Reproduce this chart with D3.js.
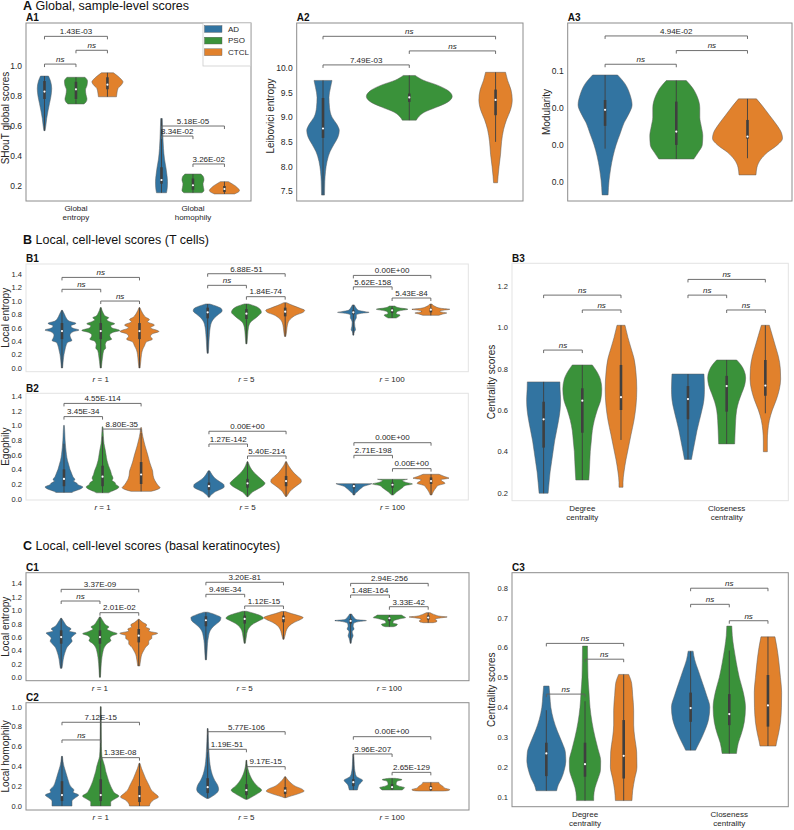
<!DOCTYPE html>
<html lang="en">
<head>
  <meta charset="UTF-8" />
  <title>SHouT scores</title>
  <script src="https://d3js.org/d3.v7.min.js"></script>
  <style>
    body { margin: 0; background: #fff; }
    svg { font-family: "Liberation Sans", Arial, sans-serif; }
  </style>
</head>
<body>
  <svg id="chart" width="794" height="830"></svg>

  <script>
    const hues = ["AD", "PSO", "CTCL"];
    const hueColors = ["#3274a1", "#3a923a", "#e1812c"];

    // violin profiles: [value, density], boxes: [q1, median, q3, whiskerLo?, whiskerHi?]
    // brackets: [category, hueFrom, hueTo, value, label]

    // ---- A1 ----
    const a1Cats = [["Global", "entropy"], ["Global", "homophily"]];
    const a1Ticks = [0.2, 0.4, 0.6, 0.8, 1.0];
    const a1Shapes = [
      [[0.933, 4], [0.9, 6], [0.85, 7.2], [0.8, 6.5], [0.75, 5], [0.7, 3.5], [0.65, 2.2], [0.6, 1.3], [0.569, 0.6]],
      [[0.925, 9], [0.9, 11.5], [0.87, 11], [0.84, 9.5], [0.81, 10], [0.78, 11], [0.76, 10], [0.747, 8]],
      [[0.955, 6], [0.935, 10], [0.91, 14], [0.895, 15.5], [0.875, 14], [0.85, 10.5], [0.82, 9.5], [0.795, 9]],
      [[0.65, 0.8], [0.55, 1.3], [0.45, 2], [0.38, 3], [0.32, 4.5], [0.27, 5.5], [0.23, 6], [0.19, 5.8], [0.155, 5]],
      [[0.28, 8], [0.26, 10.5], [0.24, 11], [0.215, 10], [0.19, 10.5], [0.17, 11], [0.155, 9]],
      [[0.229, 4], [0.215, 7.5], [0.2, 11], [0.185, 13.5], [0.17, 15], [0.158, 13.5], [0.147, 10]]
    ];
    const a1Boxes = [
      [0.78, 0.83, 0.9], [0.78, 0.845, 0.895], [0.845, 0.876, 0.925],
      [0.215, 0.24, 0.325], [0.175, 0.205, 0.25], [0.16, 0.18, 0.2]
    ];
    const a1Brackets = [
      [0, 0, 2, 1.198, "1.43E-03"], [0, 1, 2, 1.105, "ns"], [0, 0, 1, 1.013, "ns"],
      [1, 0, 2, 0.6, "5.18E-05"], [1, 0, 1, 0.533, "8.34E-02"], [1, 1, 2, 0.347, "3.26E-02"]
    ];

    // ---- A2 ----
    const a2Ticks = [7.5, 8.0, 8.5, 9.0, 9.5, 10.0];
    const a2Shapes = [
      [[9.745, 9], [9.6, 7.5], [9.4, 6], [9.2, 6.5], [9.0, 9], [8.85, 14], [8.73, 16.3], [8.6, 15], [8.45, 11], [8.3, 7], [8.1, 4], [7.9, 2.5], [7.7, 1.8], [7.42, 1.5]],
      [[9.846, 6], [9.75, 14], [9.65, 28], [9.55, 38], [9.42, 43], [9.3, 38], [9.2, 27], [9.1, 15], [9.0, 9], [8.94, 7]],
      [[9.91, 10], [9.75, 12], [9.55, 15.5], [9.35, 16.7], [9.15, 15], [8.95, 11], [8.75, 8], [8.5, 6], [8.25, 5], [8.0, 3.5], [7.8, 2.5], [7.67, 2]]
    ];
    const a2Boxes = [[8.58, 8.77, 9.39], [9.31, 9.4, 9.48], [9.04, 9.35, 9.56, 8.5, 9.91]];
    const a2Brackets = [[0, 0, 2, 10.64, "ns"], [0, 1, 2, 10.344, "ns"], [0, 0, 1, 10.06, "7.49E-03"]];

    // ---- A3 ----
    const a3Ticks = [0.0, 0.02, 0.04, 0.06];
    const a3Shapes = [
      [[0.0578, 12.5], [0.053, 20], [0.047, 25], [0.0416, 27], [0.037, 24], [0.032, 19], [0.026, 15], [0.02, 11], [0.014, 8], [0.007, 5.5], [0.001, 4], [-0.007, 3]],
      [[0.0548, 10], [0.051, 16], [0.046, 21], [0.04, 23.5], [0.035, 23.5], [0.03, 25], [0.025, 26.5], [0.02, 26], [0.016, 22], [0.0124, 17.5]],
      [[0.0449, 9], [0.041, 15], [0.036, 22], [0.031, 29], [0.0265, 34], [0.0235, 35], [0.02, 30], [0.016, 20], [0.012, 13], [0.008, 9.5], [0.0038, 8.5]]
    ];
    const a3Boxes = [[0.0303, 0.039, 0.0443, 0.018, 0.0578], [0.02, 0.0272, 0.0434], [0.0234, 0.0245, 0.0335, 0.0128, 0.0449]];
    const a3Brackets = [[0, 0, 2, 0.0789, "4.94E-02"], [0, 1, 2, 0.071, "ns"], [0, 0, 1, 0.0636, "ns"]];

    // ---- B1 ----
    const rValues = [1, 5, 100];
    const entropyTicks = [0.0, 0.2, 0.4, 0.6, 0.8, 1.0, 1.2, 1.4];
    const b1Shapes = [
      [[0.86, 0.5], [0.8, 2.5], [0.74, 4.5], [0.7, 7], [0.665, 14], [0.63, 9], [0.6, 10], [0.565, 17], [0.54, 11], [0.49, 8], [0.44, 9], [0.41, 10], [0.38, 5.5], [0.33, 4], [0.27, 3], [0.2, 2], [0.12, 1.3], [0, 0.6]],
      [[0.9, 0.5], [0.82, 2.5], [0.77, 5], [0.75, 8], [0.72, 6], [0.69, 9], [0.66, 14], [0.63, 10], [0.6, 11], [0.56, 19], [0.53, 12], [0.49, 9], [0.45, 10], [0.43, 11], [0.4, 6], [0.35, 4.5], [0.3, 5], [0.26, 3], [0.18, 2], [0.1, 1.3], [0, 0.6]],
      [[0.9, 0.5], [0.82, 3], [0.76, 6], [0.72, 10], [0.69, 8], [0.64, 15], [0.6, 11], [0.545, 19.5], [0.51, 13], [0.47, 11], [0.43, 13], [0.39, 7], [0.33, 5], [0.27, 3], [0.2, 2], [0.1, 1.3], [0, 0.6]],
      [[0.954, 2], [0.92, 9], [0.88, 14], [0.85, 14.5], [0.8, 11], [0.75, 7], [0.7, 4.5], [0.6, 2.5], [0.5, 1.8], [0.4, 1.3], [0.3, 1], [0.22, 0.6]],
      [[0.955, 2], [0.92, 9], [0.87, 14], [0.83, 15], [0.78, 12], [0.73, 8], [0.68, 4], [0.6, 2], [0.5, 1.3], [0.36, 0.6]],
      [[0.973, 1.5], [0.93, 8], [0.89, 15], [0.86, 19.5], [0.83, 18], [0.79, 11], [0.74, 6], [0.68, 3], [0.6, 1.8], [0.52, 1.2], [0.47, 0.6]],
      [[0.94, 1], [0.9, 2.5], [0.86, 5], [0.84, 12], [0.83, 15.8], [0.815, 8], [0.79, 3], [0.75, 3], [0.72, 2], [0.68, 1.2], [0.62, 1.5], [0.57, 2.2], [0.54, 1], [0.49, 0.5]],
      [[0.924, 3], [0.9, 6], [0.875, 15.8], [0.86, 10], [0.84, 5], [0.81, 4], [0.79, 8], [0.77, 7], [0.745, 4]],
      [[0.954, 1], [0.92, 4], [0.89, 10], [0.875, 19], [0.86, 12], [0.84, 9], [0.82, 16], [0.805, 12], [0.785, 8]]
    ];
    const b1Boxes = [
      [0.43, 0.55, 0.67], [0.43, 0.55, 0.67], [0.43, 0.55, 0.67],
      [0.74, 0.83, 0.9], [0.73, 0.81, 0.88], [0.77, 0.84, 0.9],
      [0.8, 0.83, 0.86], [0.82, 0.86, 0.89], [0.83, 0.87, 0.89]
    ];
    const b1Brackets = [
      [0, 0, 2, 1.35, "ns"], [0, 0, 1, 1.173, "ns"], [0, 1, 2, 0.998, "ns"],
      [1, 0, 2, 1.405, "6.88E-51"], [1, 0, 1, 1.232, "ns"], [1, 1, 2, 1.063, "1.84E-74"],
      [2, 0, 2, 1.38, "0.00E+00"], [2, 0, 1, 1.21, "5.62E-158"], [2, 1, 2, 1.043, "5.43E-84"]
    ];

    // ---- B2 ----
    const b2Shapes = [
      [[1.0, 0.4], [0.9, 0.8], [0.8, 1.1], [0.7, 1.7], [0.6, 2.5], [0.52, 3.5], [0.45, 5], [0.4, 6], [0.35, 7.5], [0.3, 9], [0.26, 11], [0.24, 9.5], [0.21, 13], [0.19, 14], [0.16, 19], [0.13, 16], [0.1, 10], [0.085, 8]],
      [[0.98, 0.4], [0.85, 0.9], [0.75, 1.5], [0.68, 2.5], [0.6, 3.5], [0.52, 4.5], [0.45, 6], [0.38, 8], [0.33, 9], [0.28, 10.5], [0.25, 9.5], [0.22, 12.5], [0.19, 13.5], [0.16, 16.5], [0.13, 14], [0.1, 9], [0.08, 6]],
      [[0.97, 0.4], [0.9, 1], [0.8, 2.5], [0.72, 4], [0.65, 5.5], [0.58, 7], [0.5, 8.5], [0.44, 10], [0.38, 11.5], [0.32, 12], [0.27, 13], [0.22, 15], [0.18, 17], [0.15, 19], [0.12, 15], [0.1, 10]],
      [[0.38, 0.8], [0.33, 3], [0.28, 6], [0.23, 11], [0.19, 15], [0.16, 15.3], [0.13, 12], [0.1, 7], [0.07, 4], [0.04, 1.5], [0.02, 0.5]],
      [[0.505, 0.5], [0.45, 2], [0.4, 4], [0.35, 7], [0.3, 11], [0.25, 15], [0.21, 17.5], [0.17, 15], [0.13, 10], [0.09, 5], [0.05, 2], [0.027, 0.6]],
      [[0.505, 0.5], [0.45, 2.5], [0.4, 5], [0.35, 8], [0.3, 12], [0.26, 15], [0.23, 15.3], [0.19, 12], [0.15, 8], [0.1, 4], [0.06, 2], [0.03, 0.6]],
      [[0.205, 18], [0.19, 15], [0.17, 10], [0.15, 8], [0.13, 6], [0.1, 4], [0.08, 2], [0.05, 0.8]],
      [[0.265, 15], [0.245, 10], [0.225, 13], [0.2, 20], [0.18, 13], [0.15, 10], [0.12, 7], [0.09, 4], [0.065, 2], [0.05, 0.8]],
      [[0.333, 8], [0.3, 14], [0.28, 18], [0.26, 10], [0.24, 11], [0.21, 14], [0.18, 7], [0.15, 5], [0.1, 2.5], [0.05, 0.8]]
    ];
    const b2Boxes = [
      [0.17, 0.27, 0.4, 0.085, 0.75], [0.17, 0.3, 0.45, 0.08, 0.85], [0.2, 0.33, 0.5, 0.1, 0.9],
      [0.12, 0.17, 0.22], [0.15, 0.21, 0.27], [0.17, 0.24, 0.31],
      [0.14, 0.17, 0.2], [0.15, 0.19, 0.22], [0.2, 0.24, 0.29]
    ];
    const b2Brackets = [
      [0, 0, 2, 1.3, "4.55E-114"], [0, 0, 1, 1.12, "3.45E-34"], [0, 1, 2, 0.95, "8.80E-35"],
      [1, 0, 2, 0.92, "0.00E+00"], [1, 0, 1, 0.746, "1.27E-142"], [1, 1, 2, 0.583, "5.40E-214"],
      [2, 0, 2, 0.764, "0.00E+00"], [2, 0, 1, 0.592, "2.71E-198"], [2, 1, 2, 0.41, "0.00E+00"]
    ];

    // ---- B3 ----
    const centralityCats = [["Degree", "centrality"], ["Closeness", "centrality"]];
    const b3Ticks = [0.2, 0.4, 0.6, 0.8, 1.0, 1.2];
    const b3Shapes = [
      [[0.736, 16.3], [0.7, 16.5], [0.65, 17], [0.6, 16.5], [0.55, 15], [0.5, 13], [0.45, 11], [0.4, 9.5], [0.35, 8], [0.3, 6.5], [0.25, 5.5], [0.197, 4.5]],
      [[0.818, 10], [0.79, 14], [0.75, 18], [0.7, 19.5], [0.65, 18.5], [0.6, 15], [0.55, 12], [0.5, 10], [0.45, 9], [0.4, 8], [0.35, 7.5], [0.3, 7], [0.261, 6.5]],
      [[1.01, 4], [0.95, 7], [0.9, 10], [0.85, 13], [0.78, 15], [0.7, 15.8], [0.62, 15], [0.55, 13], [0.48, 10], [0.42, 7.5], [0.36, 5], [0.3, 3], [0.25, 2], [0.226, 2]],
      [[0.774, 16], [0.74, 16.3], [0.7, 16.5], [0.65, 16], [0.6, 14], [0.55, 11.5], [0.5, 9], [0.45, 7], [0.4, 5], [0.361, 3.5]],
      [[0.842, 10], [0.82, 14], [0.79, 17.5], [0.755, 19], [0.72, 18], [0.68, 15], [0.64, 12], [0.6, 10], [0.55, 9], [0.5, 8.5], [0.436, 8]],
      [[1.01, 4], [0.96, 7], [0.91, 10], [0.86, 13], [0.8, 15], [0.75, 15.3], [0.7, 14], [0.65, 11], [0.6, 7], [0.55, 4], [0.5, 2.5], [0.45, 2], [0.398, 2]]
    ];
    const b3Boxes = [
      [0.418, 0.555, 0.64], [0.49, 0.645, 0.705], [0.6, 0.662, 0.818, 0.455, 1.01],
      [0.555, 0.653, 0.716], [0.592, 0.716, 0.765], [0.669, 0.718, 0.842, 0.584, 1.01]
    ];
    const b3Brackets = [
      [0, 0, 2, 1.156, "ns"], [0, 1, 2, 1.084, "ns"], [0, 0, 1, 0.89, "ns"],
      [1, 0, 2, 1.232, "ns"], [1, 0, 1, 1.156, "ns"], [1, 1, 2, 1.084, "ns"]
    ];

    // ---- C1 ----
    const c1Shapes = [
      [[0.88, 0.5], [0.82, 3], [0.76, 6], [0.72, 10], [0.69, 8], [0.66, 15], [0.62, 12], [0.58, 10], [0.54, 11], [0.5, 9], [0.45, 6], [0.4, 4.5], [0.33, 3], [0.26, 2], [0.2, 1.5], [0.134, 0.8]],
      [[0.9, 0.5], [0.84, 3], [0.78, 6], [0.75, 9], [0.72, 7], [0.68, 12], [0.65, 17.3], [0.62, 12], [0.58, 10], [0.55, 11], [0.5, 7], [0.45, 4.5], [0.38, 3], [0.3, 2], [0.2, 1.3], [0.1, 0.9], [0, 0.5]],
      [[0.864, 0.5], [0.82, 4], [0.78, 8], [0.75, 7], [0.72, 11], [0.69, 10], [0.655, 19], [0.62, 13], [0.58, 13], [0.54, 10], [0.5, 10], [0.45, 7], [0.4, 5], [0.34, 3], [0.27, 2], [0.168, 1]],
      [[0.97, 2], [0.93, 10], [0.89, 15], [0.85, 14.5], [0.8, 11], [0.75, 7], [0.7, 4.5], [0.6, 2.5], [0.5, 1.6], [0.4, 1.2], [0.26, 0.6]],
      [[0.984, 2], [0.95, 10], [0.91, 17], [0.88, 18.7], [0.84, 14], [0.8, 9], [0.75, 5], [0.7, 3], [0.6, 1.6], [0.507, 0.6]],
      [[0.98, 2], [0.95, 8], [0.92, 15], [0.89, 19.7], [0.86, 17], [0.82, 11], [0.77, 6], [0.72, 3.5], [0.65, 2], [0.566, 0.6]],
      [[0.943, 1], [0.9, 3], [0.86, 6], [0.845, 15.8], [0.83, 8], [0.8, 3], [0.76, 2.5], [0.72, 3.5], [0.68, 1.5], [0.62, 2.5], [0.58, 1.5], [0.507, 0.5]],
      [[0.928, 12], [0.91, 14], [0.89, 16.2], [0.87, 10], [0.84, 4], [0.81, 3.5], [0.79, 8], [0.77, 7], [0.754, 4]],
      [[0.963, 2], [0.93, 7], [0.91, 12], [0.9, 19], [0.88, 10], [0.86, 7], [0.84, 9], [0.825, 8], [0.814, 5]]
    ];
    const c1Boxes = [
      [0.5, 0.6, 0.7], [0.5, 0.6, 0.7], [0.52, 0.62, 0.72],
      [0.76, 0.85, 0.91], [0.8, 0.87, 0.92], [0.82, 0.88, 0.92],
      [0.8, 0.84, 0.87], [0.84, 0.88, 0.9], [0.86, 0.89, 0.92]
    ];
    const c1Brackets = [
      [0, 0, 2, 1.311, "3.37E-09"], [0, 0, 1, 1.137, "ns"], [0, 1, 2, 0.963, "2.01E-02"],
      [1, 0, 2, 1.416, "3.20E-81"], [1, 0, 1, 1.237, "9.49E-34"], [1, 1, 2, 1.063, "1.12E-15"],
      [2, 0, 2, 1.4, "2.94E-256"], [2, 0, 1, 1.227, "1.48E-164"], [2, 1, 2, 1.052, "3.33E-42"]
    ];

    // ---- C2 ----
    const c2Ticks = [0.0, 0.2, 0.4, 0.6, 0.8, 1.0];
    const c2Shapes = [
      [[0.5, 0.5], [0.45, 1], [0.4, 2], [0.35, 3.5], [0.3, 5], [0.25, 6.5], [0.2, 8.5], [0.16, 12], [0.14, 11], [0.11, 16.7], [0.08, 13], [0.05, 10], [0.02, 10], [0, 10]],
      [[1.0, 0.4], [0.8, 0.5], [0.6, 0.7], [0.5, 1.2], [0.45, 2.5], [0.4, 4], [0.35, 5], [0.3, 6.5], [0.25, 8], [0.2, 10], [0.16, 12], [0.13, 14], [0.1, 18.3], [0.07, 14], [0.04, 10], [0, 10]],
      [[0.43, 0.5], [0.38, 2], [0.33, 4], [0.28, 6], [0.24, 8], [0.2, 10], [0.16, 12], [0.13, 15], [0.09, 19], [0.06, 14], [0.03, 11], [0, 10]],
      [[0.78, 0.4], [0.65, 0.8], [0.55, 1.3], [0.45, 2], [0.38, 3], [0.32, 4.5], [0.26, 7], [0.21, 10], [0.17, 11], [0.13, 9], [0.1, 5], [0.077, 1]],
      [[0.46, 0.4], [0.4, 1], [0.34, 2.5], [0.29, 4.5], [0.24, 7.5], [0.2, 11], [0.16, 15.3], [0.13, 12], [0.1, 7], [0.08, 3.5], [0.067, 1]],
      [[0.295, 0.5], [0.26, 3], [0.23, 6], [0.2, 10], [0.17, 17], [0.15, 19], [0.13, 15], [0.11, 9], [0.095, 4], [0.084, 1]],
      [[0.524, 0.4], [0.45, 0.8], [0.38, 1.2], [0.33, 2], [0.3, 3], [0.28, 6], [0.26, 9.3], [0.24, 8], [0.22, 6], [0.2, 5], [0.18, 4.5], [0.161, 4]],
      [[0.279, 3], [0.265, 10], [0.25, 5], [0.22, 4], [0.2, 7], [0.185, 12.5], [0.17, 11], [0.161, 10]],
      [[0.238, 8], [0.22, 9], [0.2, 12], [0.18, 14], [0.165, 19], [0.155, 17], [0.151, 12]]
    ];
    const c2Boxes = [
      [0.05, 0.11, 0.25], [0.05, 0.11, 0.27], [0.04, 0.1, 0.2],
      [0.13, 0.19, 0.28], [0.11, 0.16, 0.22], [0.12, 0.155, 0.19],
      [0.2, 0.24, 0.27], [0.17, 0.19, 0.22], [0.16, 0.18, 0.2]
    ];
    const c2Brackets = [
      [0, 0, 2, 0.843, "7.12E-15"], [0, 0, 1, 0.665, "ns"], [0, 1, 2, 0.487, "1.33E-08"],
      [1, 0, 2, 0.748, "5.77E-106"], [1, 0, 1, 0.571, "1.19E-51"], [1, 1, 2, 0.396, "9.17E-15"],
      [2, 0, 2, 0.698, "0.00E+00"], [2, 0, 1, 0.524, "3.96E-207"], [2, 1, 2, 0.339, "2.65E-129"]
    ];

    // ---- C3 ----
    const c3Ticks = [0.1, 0.2, 0.3, 0.4, 0.5, 0.6, 0.7, 0.8];
    const c3Shapes = [
      [[0.471, 2.7], [0.44, 3.5], [0.4, 4.5], [0.36, 7], [0.32, 11], [0.28, 16], [0.25, 19], [0.22, 19.5], [0.19, 18], [0.16, 15], [0.14, 12], [0.12, 10.3]],
      [[0.605, 2.5], [0.55, 2.7], [0.5, 3], [0.45, 4], [0.4, 5], [0.35, 7], [0.3, 10], [0.26, 13], [0.22, 15.7], [0.19, 15.5], [0.16, 13], [0.13, 10], [0.1, 8.7], [0.087, 8.7]],
      [[0.51, 5], [0.48, 8], [0.44, 9], [0.39, 10], [0.34, 10], [0.3, 11], [0.25, 13], [0.2, 13.3], [0.16, 11], [0.12, 9], [0.087, 8.3]],
      [[0.588, 2.5], [0.56, 4], [0.52, 8], [0.48, 12], [0.44, 16], [0.4, 19.2], [0.36, 18], [0.32, 14], [0.29, 10], [0.27, 7], [0.256, 5]],
      [[0.672, 2.5], [0.64, 3], [0.6, 4.5], [0.55, 7], [0.5, 10], [0.45, 14], [0.4, 16.2], [0.35, 15], [0.31, 12], [0.28, 9], [0.245, 7.2]],
      [[0.636, 7], [0.6, 9], [0.55, 11], [0.5, 12.5], [0.45, 13.7], [0.4, 13.5], [0.35, 12.5], [0.31, 10.5], [0.28, 8.5], [0.27, 8]]
    ];
    const c3Boxes = [
      [0.169, 0.245, 0.281, 0.12, 0.39], [0.167, 0.209, 0.281, 0.087, 0.42], [0.161, 0.237, 0.357],
      [0.351, 0.397, 0.449], [0.34, 0.377, 0.444, 0.245, 0.59], [0.335, 0.406, 0.508]
    ];
    const c3Brackets = [
      [0, 0, 2, 0.614, "ns"], [0, 1, 2, 0.561, "ns"], [0, 0, 1, 0.444, "ns"],
      [1, 0, 2, 0.799, "ns"], [1, 0, 1, 0.745, "ns"], [1, 1, 2, 0.69, "ns"]
    ];

    const svg = d3.select("#chart");
    const darkFrame = "#8c8c8c";
    const lightFrame = "#e3e3e3";
    const rLabels = rValues.map(r => ["r", " = " + r]);

    function drawPanel(p) {
      const [fx0, fy0, fx1, fy1] = p.frame;
      const x = d3.scaleLinear().domain(p.xDomain).range([fx0, fx1]);
      const y = d3.scaleLinear().domain(p.yDomain).range([fy1, fy0]);
      const half = (x(p.hueStep) - x(0)) / 2;
      const w = d3.scaleLinear().domain([0, p.dRef]).range([0, half]);
      const pos = (c, h) => x(c + (h - 1) * p.hueStep);
      const g = svg.append("g");

      // y axis, seaborn white style: no tick marks
      const axis = d3.axisLeft(y).tickValues(p.ticks).tickFormat(d3.format(p.fmt)).tickSize(0).tickPadding(4);
      const ag = g.append("g").attr("transform", `translate(${fx0},0)`).call(axis);
      ag.select(".domain").remove();
      ag.attr("font-family", null).attr("font-size", p.tickFont);
      ag.selectAll("text").attr("fill", "#262626");

      // violins
      const area = d3.area().curve(d3.curveMonotoneY)
        .y(d => y(d[0])).x0(d => -w(d[1])).x1(d => w(d[1]));
      p.shapes.forEach((shape, i) => {
        const c = Math.floor(i / 3), h = i % 3;
        const vg = g.append("g").attr("transform", `translate(${pos(c, h)},0)`);
        vg.append("path").attr("d", area(shape))
          .attr("fill", hueColors[h]).attr("stroke", "#5a5a5a").attr("stroke-width", 0.5);
        const b = p.boxes[i];
        const lo = b[3] ?? d3.min(shape, d => d[0]);
        const hi = b[4] ?? d3.max(shape, d => d[0]);
        vg.append("line").attr("y1", y(lo)).attr("y2", y(hi))
          .attr("stroke", "#3f3f3f").attr("stroke-width", 0.9);
        vg.append("line").attr("y1", y(b[0])).attr("y2", y(b[2]))
          .attr("stroke", "#3f3f3f").attr("stroke-width", 2.6);
        vg.append("circle").attr("cy", y(b[1])).attr("r", 1.1).attr("fill", "#fff");
      });

      // significance brackets
      p.brackets.forEach(([c, h1, h2, v, label]) => {
        const xa = pos(c, h1), xb = pos(c, h2), yy = y(v);
        g.append("path").attr("d", `M${xa},${yy + 3}V${yy}H${xb}V${yy + 3}`)
          .attr("fill", "none").attr("stroke", "#5f5f5f").attr("stroke-width", 0.9);
        g.append("text").attr("x", (xa + xb) / 2).attr("y", yy - 2.2)
          .attr("text-anchor", "middle").attr("font-size", 8).attr("fill", "#262626")
          .attr("font-style", label === "ns" ? "italic" : null).text(label);
      });

      // frame
      g.append("rect").attr("x", fx0).attr("y", fy0).attr("width", fx1 - fx0).attr("height", fy1 - fy0)
        .attr("fill", "none").attr("stroke", p.frameColor).attr("stroke-width", 1);

      // category labels
      (p.cats || []).forEach((lines, c) => {
        const t = g.append("text").attr("x", x(c)).attr("text-anchor", "middle")
          .attr("font-size", 8).attr("fill", "#262626");
        if (p.rStyle) {
          t.attr("y", fy1 + 10);
          t.append("tspan").attr("font-style", "italic").text(lines[0]);
          t.append("tspan").text(lines[1]);
        } else {
          lines.forEach((ln, k) => t.append("tspan").attr("x", x(c)).attr("y", fy1 + 10.3 + k * 9).text(ln));
        }
      });

      // axis title
      g.append("text")
        .attr("transform", `translate(${p.yLabelX},${p.yLabelY ?? (fy0 + fy1) / 2}) rotate(-90)`)
        .attr("text-anchor", "middle").attr("dy", "0.35em")
        .attr("font-size", 10).attr("fill", "#262626").text(p.yLabel);

      // panel label
      g.append("text").attr("x", fx0).attr("y", fy0 - 1.8)
        .attr("font-size", 10).attr("font-weight", "bold").attr("fill", "#111").text(p.label);
      return { x, y };
    }

    drawPanel({ label: "A1", frame: [26, 23, 251, 201], xDomain: [-0.427, 1.496], yDomain: [0.1, 1.287],
      hueStep: 0.269, dRef: 15.7, ticks: a1Ticks, fmt: ".1f", tickFont: 8.5, cats: a1Cats,
      shapes: a1Shapes, boxes: a1Boxes, brackets: a1Brackets, frameColor: darkFrame,
      yLabel: "SHouT global scores", yLabelX: 5, yLabelY: 118 });
    drawPanel({ label: "A2", frame: [296.7, 23, 523, 201], xDomain: [-1.305, 1.318], yDomain: [7.30, 10.91],
      hueStep: 1, dRef: 43.2, ticks: a2Ticks, fmt: ".1f", tickFont: 8.5,
      shapes: a2Shapes, boxes: a2Boxes, brackets: a2Brackets, frameColor: darkFrame,
      yLabel: "Leibovici entropy", yLabelX: 270.5, yLabelY: 116 });
    drawPanel({ label: "A3", frame: [567.7, 23, 792, 201], xDomain: [-1.525, 1.625], yDomain: [-0.0103, 0.0859],
      hueStep: 1, dRef: 35.6, ticks: a3Ticks, fmt: ".1f", tickFont: 8.5,
      shapes: a3Shapes, boxes: a3Boxes, brackets: a3Brackets, frameColor: darkFrame,
      yLabel: "Modularity", yLabelX: 546, yLabelY: 112 });

    drawPanel({ label: "B1", frame: [26, 264, 468.3, 371.7], xDomain: [-0.513, 2.523], yDomain: [-0.055, 1.55],
      hueStep: 0.266, dRef: 19.4, ticks: entropyTicks, fmt: ".1f", tickFont: 7.5, cats: rLabels, rStyle: true,
      shapes: b1Shapes, boxes: b1Boxes, brackets: b1Brackets, frameColor: lightFrame,
      yLabel: "Local entropy", yLabelX: 5 });
    drawPanel({ label: "B2", frame: [26, 393.3, 468.3, 500], xDomain: [-0.528, 2.523], yDomain: [-0.018, 1.438],
      hueStep: 0.266, dRef: 19.3, ticks: entropyTicks, fmt: ".1f", tickFont: 7.5, cats: rLabels, rStyle: true,
      shapes: b2Shapes, boxes: b2Boxes, brackets: b2Brackets, frameColor: lightFrame,
      yLabel: "Egophily", yLabelX: 5 });
    drawPanel({ label: "B3", frame: [512, 263.3, 788.3, 500.7], xDomain: [-0.487, 1.427], yDomain: [0.161, 1.31],
      hueStep: 0.268, dRef: 19.35, ticks: b3Ticks, fmt: ".1f", tickFont: 7.5, cats: centralityCats,
      shapes: b3Shapes, boxes: b3Boxes, brackets: b3Brackets, frameColor: lightFrame,
      yLabel: "Centrality scores", yLabelX: 491 });

    drawPanel({ label: "C1", frame: [26, 572.7, 469, 680.7], xDomain: [-0.511, 2.55], yDomain: [-0.051, 1.559],
      hueStep: 0.268, dRef: 19.4, ticks: entropyTicks, fmt: ".1f", tickFont: 7.5, cats: rLabels, rStyle: true,
      shapes: c1Shapes, boxes: c1Boxes, brackets: c1Brackets, frameColor: darkFrame,
      yLabel: "Local entropy", yLabelX: 5 });
    drawPanel({ label: "C2", frame: [26, 702.7, 469, 810], xDomain: [-0.513, 2.528], yDomain: [-0.04, 1.04],
      hueStep: 0.266, dRef: 19.4, ticks: c2Ticks, fmt: ".1f", tickFont: 7.5, cats: rLabels, rStyle: true,
      shapes: c2Shapes, boxes: c2Boxes, brackets: c2Brackets, frameColor: darkFrame,
      yLabel: "Local homophily", yLabelX: 5 });
    drawPanel({ label: "C3", frame: [512, 572.7, 788.3, 806.7], xDomain: [-0.506, 1.409], yDomain: [0.0665, 0.851],
      hueStep: 0.268, dRef: 19.35, ticks: c3Ticks, fmt: ".1f", tickFont: 7.5, cats: centralityCats,
      shapes: c3Shapes, boxes: c3Boxes, brackets: c3Brackets, frameColor: darkFrame,
      yLabel: "Centrality scores", yLabelX: 491 });

    // legend in A1
    const legend = svg.append("g");
    legend.append("rect").attr("x", 203).attr("y", 23).attr("width", 47.5).attr("height", 43)
      .attr("fill", "#fff").attr("stroke", "#cccccc").attr("stroke-width", 0.8);
    hues.forEach((name, i) => {
      const cy = 29 + i * 11.6;
      legend.append("rect").attr("x", 204.5).attr("y", cy - 3.4).attr("width", 17.5).attr("height", 6.8)
        .attr("fill", hueColors[i]).attr("stroke", "#5a5a5a").attr("stroke-width", 0.4);
      legend.append("text").attr("x", 228).attr("y", cy).attr("dy", "0.35em")
        .attr("font-size", 8).attr("fill", "#262626").text(name);
    });

    // section headers: bold letter, then the title placed after it
    const headers = [
      ["A", "Global, sample-level scores", 9.5],
      ["B", "Local, cell-level scores (T cells)", 243.5],
      ["C", "Local, cell-level scores (basal keratinocytes)", 550]
    ];
    headers.forEach(([letter, text, by]) => {
      const lt = svg.append("text").attr("x", 23).attr("y", by).attr("font-size", 12.5)
        .attr("font-weight", "bold").attr("fill", "#111").text(letter);
      const lw = lt.node().getComputedTextLength();
      svg.append("text").attr("x", 23 + lw + 3.5).attr("y", by).attr("font-size", 12.5)
        .attr("fill", "#111").text(text);
    });
  </script>
</body>
</html>
